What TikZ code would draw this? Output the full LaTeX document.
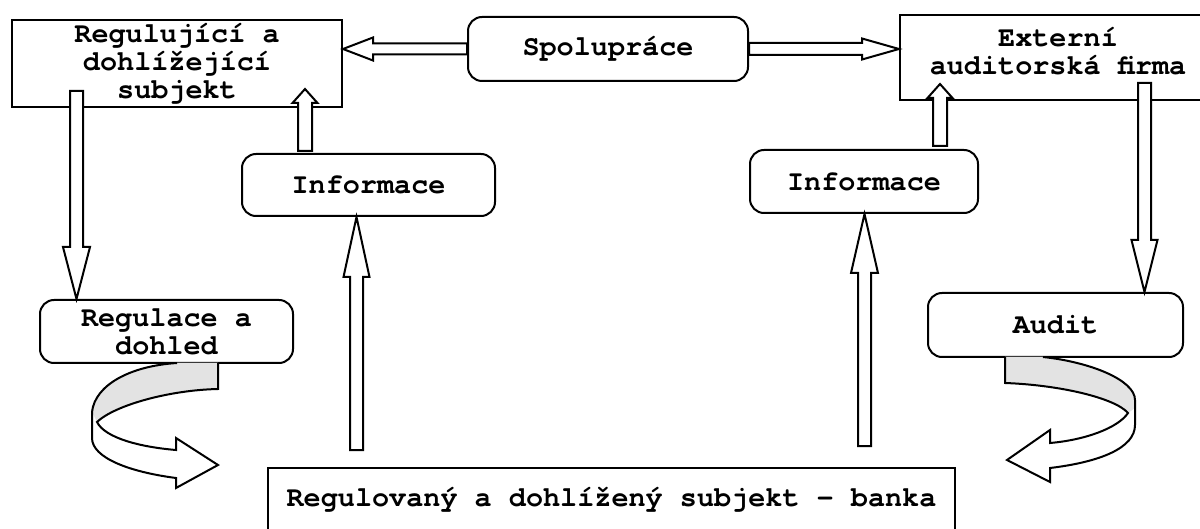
\documentclass[tikz,border=0pt]{standalone}
\usepackage{fontspec}
\newfontfamily\monofont{TeX Gyre Cursor}
\usetikzlibrary{calc}

\newcommand{\boxfont}{\monofont\bfseries\fontsize{28.5}{28}\selectfont\lineskiplimit=-20pt\relax}

\tikzset{
	box/.style={draw, line width=2pt, align=center, inner sep=0pt, font=\boxfont},
	roundbox/.style={box, rounded corners=14pt},
	hollow/.style={draw, line width=2pt, fill=white, line join=miter},
	curl/.style={draw, line width=2pt, line join=miter},
}

% hollow block arrow: start, tip, shaft half width, head half width, head length
\newcommand{\hollowarrow}[5]{%
	\coordinate (hb) at ($(#2)!#5!(#1)$);
	\filldraw[hollow] ($(#1)!#3!90:(#2)$) -- ($(hb)!#3!90:(#2)$) -- ($(hb)!#4!90:(#2)$) -- (#2)
		-- ($(hb)!#4!-90:(#2)$) -- ($(hb)!#3!-90:(#2)$) -- ($(#1)!#3!-90:(#2)$) -- cycle;
}

\begin{document}
\begin{tikzpicture}[x=1pt, y=-1pt]
		\useasboundingbox (0,0) rectangle (1200,529);
		
		\node[box, minimum width=330pt, minimum height=87pt] (reg) at (177,63.5) {Regulující a\\dohlížející\\subjekt};
		\node[roundbox, minimum width=280pt, minimum height=64pt] (coop) at (608,49) {Spolupráce};
		\node[box, minimum width=316pt, minimum height=85pt] (ext) at (1058,57.5) {};
		\node[box, draw=none] (extText) at ($(ext.center)+(0,-6.5)$) {Externí\\auditorská firma};
		\node[roundbox, minimum width=253pt, minimum height=62pt] (infoL) at (368.5,185) {Informace};
		\node[roundbox, minimum width=228pt, minimum height=63pt] (infoR) at (864,181.5) {Informace};
		\node[roundbox, minimum width=253pt, minimum height=63pt] (regdoh) at (166.5,331.5) {Regulace a\\dohled};
		\node[roundbox, minimum width=255pt, minimum height=64pt] (audit) at (1055.5,325) {Audit};
		\node[box, minimum width=687pt, minimum height=64pt] (bank) at (611.5,500) {Regulovaný a dohlížený subjekt - banka};
		
		% arrow ends
		\coordinate (coopL) at (coop.west);
		\coordinate (regE) at (coop.west -| reg.east);
		\coordinate (coopR) at (coop.east);
		\coordinate (extW) at (coop.east -| ext.west);
		\coordinate (iLN) at ($(infoL.north)+(-63.5,-2)$);
		\coordinate (regS) at ($(iLN |- reg.south)+(0,-19)$);
		\coordinate (iRN) at ($(infoR.north)+(76,-3)$);
		\coordinate (extS) at ($(iRN |- ext.south)+(0,-17)$);
		\coordinate (regD) at ($(regdoh.north |- reg.south)+(-90,-17)$);
		\coordinate (rdN) at ($(regdoh.north)+(-90,0)$);
		\coordinate (extD) at ($(audit.north |- ext.south)+(89,-18)$);
		\coordinate (auN) at ($(audit.north)+(89,0)$);
		\coordinate (bkL) at ($(infoL.south |- bank.north)+(-12,-17)$);
		\coordinate (iLS) at ($(infoL.south)+(-12,0)$);
		\coordinate (bkR) at ($(infoR.south |- bank.north)+(0.5,-21)$);
		\coordinate (iRS) at ($(infoR.south)+(0.5,0)$);
		
		\hollowarrow{coopL}{regE}{5.5pt}{11.5pt}{30pt}
		\hollowarrow{coopR}{extW}{6pt}{10.5pt}{37pt}
		\hollowarrow{iLN}{regS}{7pt}{12.5pt}{14pt}
		\hollowarrow{iRN}{extS}{7pt}{12.5pt}{14pt}
		\hollowarrow{regD}{rdN}{6.5pt}{13.5pt}{52pt}
		\hollowarrow{extD}{auN}{6.5pt}{13pt}{52pt}
		\hollowarrow{bkL}{iLS}{6.5pt}{13pt}{60pt}
		\hollowarrow{bkR}{iRS}{6.5pt}{13.5pt}{59pt}
		
		% curled arrows towards the bank
		\fill[white] (218,363) -- (218,389) .. controls (170,390) and (115,405) .. (97,422)
			.. controls (105,438) and (140,447) .. (176,450) -- (176,438) -- (218,465) -- (176,488) -- (176,478)
			.. controls (130,472) and (92,458) .. (92,438) -- (92,412) .. controls (95,385) and (130,366) .. (177,363) -- cycle;
		\fill[black!11] (177,363) .. controls (130,366) and (95,385) .. (92,412) -- (97,422)
			.. controls (115,405) and (170,390) .. (218,389) -- (218,363) -- cycle;
		\draw[curl] (218,363) -- (218,389) .. controls (170,390) and (115,405) .. (97,422)
			.. controls (105,438) and (140,447) .. (176,450) -- (176,438) -- (218,465) -- (176,488) -- (176,478)
			.. controls (130,472) and (92,458) .. (92,438) -- (92,412) .. controls (95,385) and (130,366) .. (177,363);
		
		\fill[white] (1005,357) -- (1005,383) .. controls (1060,385) and (1115,398) .. (1128,413)
			.. controls (1118,428) and (1085,440) .. (1050,443) -- (1050,430) -- (1007,460) -- (1050,482) -- (1050,468)
			.. controls (1100,462) and (1135,448) .. (1135,425) -- (1135,400) .. controls (1135,380) and (1090,362) .. (1043,357) -- cycle;
		\fill[black!11] (1043,357) .. controls (1090,362) and (1135,380) .. (1135,400) -- (1135,408) -- (1128,413)
			.. controls (1115,398) and (1060,385) .. (1005,383) -- (1005,357) -- cycle;
		\draw[curl] (1005,357) -- (1005,383) .. controls (1060,385) and (1115,398) .. (1128,413)
			.. controls (1118,428) and (1085,440) .. (1050,443) -- (1050,430) -- (1007,460) -- (1050,482) -- (1050,468)
			.. controls (1100,462) and (1135,448) .. (1135,425) -- (1135,400) .. controls (1135,380) and (1090,362) .. (1043,357);
\end{tikzpicture}
\end{document}
